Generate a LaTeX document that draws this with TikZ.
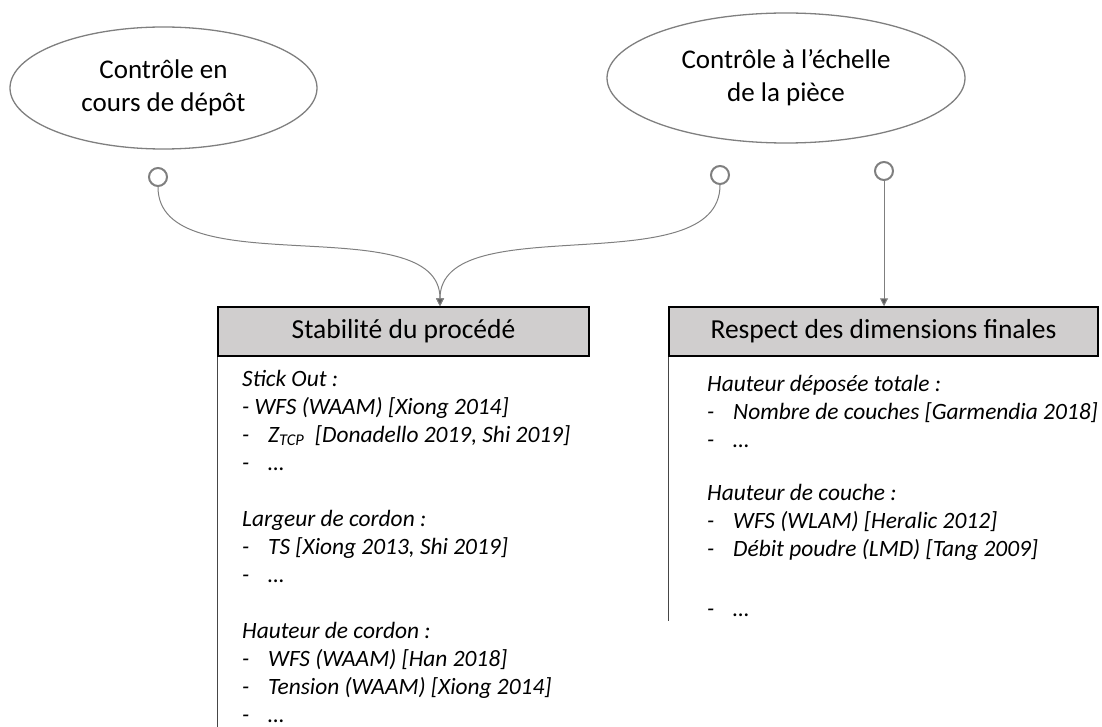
\documentclass[tikz,border=0pt]{standalone}
\definecolor{linegrey}{RGB}{127,127,127}
\definecolor{tipgrey}{RGB}{89,89,89}
\definecolor{headgrey}{RGB}{208,206,206}
\definecolor{rulegrey}{RGB}{70,70,70}
\usepackage{fontspec}
\setmainfont{Carlito}
\usepackage{tikz}
\usetikzlibrary{arrows.meta, positioning, shapes.geometric}
\newcommand{\puce}[1]{\makebox[26pt][l]{-}#1}

\begin{document}
\begin{tikzpicture}[
  x=1pt, y=-1pt,
  goal/.style={ellipse, draw=linegrey, line width=1.3pt, align=center,
               font=\fontsize{27}{33}\selectfont},
  port/.style={circle, draw=linegrey, line width=2pt, minimum size=18pt, inner sep=0pt},
  head/.style={rectangle, draw=black, line width=1.5pt, fill=headgrey,
               minimum height=49pt, font=\fontsize{27.5}{33}\selectfont},
  item/.style={anchor=base west, inner sep=0pt, font=\fontsize{23.4}{28}\selectfont\itshape},
  link/.style={-{Triangle[length=8pt, width=8pt, fill=tipgrey]}, draw=linegrey, line width=1pt}
]
  \useasboundingbox (0,0) rectangle (1102,727);

  % Control levels
  \node[goal, minimum width=307pt, minimum height=122pt] (depot) at (163.5,88) {Contrôle en\\cours de dépôt};
  \node[goal, minimum width=358pt, minimum height=130pt] (piece) at (786,78)  {Contrôle à l’échelle\\de la pièce};

  % Ports
  \node[port] (p1) at (158,177) {};
  \node[port] (p2) at (720,175) {};
  \node[port] (p3) at (884,171) {};

  % Objectives
  \node[head, minimum width=371pt] (stab) at (403.5,331.5) {Stabilité du procédé};
  \node[head, minimum width=429pt] (dims) at (883.5,331.5) {Respect des dimensions finales};
  \coordinate (merge) at ([xshift=36.5pt]stab.north);

  % Side rules
  \draw[rulegrey, line width=1.5pt] (stab.south west) -- ++(0,371);
  \draw[rulegrey, line width=1.5pt] (dims.south west) -- ++(0,264);

  % Links
  \draw[link] (p1.south) .. controls +(0,100) and +(0,-100) .. (merge);
  \draw[link] (p2.south) .. controls +(0,100) and +(0,-100) .. (merge);
  \draw[link] (p3.south) -- (p3.south |- dims.north);

  % Process stability items
  \foreach \y/\txt [count=\i] in {386/{Stick Out :}, 414/{- WFS (WAAM) [Xiong 2014]},
      442/{\puce{Z\textsubscript{TCP}\ \ [Donadello 2019, Shi 2019]}}, 470/{\puce{…}},
      526/{Largeur de cordon :}, 554/{\puce{TS [Xiong 2013, Shi 2019]}}, 582/{\puce{…}},
      638/{Hauteur de cordon :}, 666/{\puce{WFS (WAAM) [Han 2018]}},
      694/{\puce{Tension (WAAM) [Xiong 2014]}}, 722/{\puce{…}}}
    \node[item] (s\i) at (242,\y) {\txt};

  % Final dimension items
  \foreach \y/\txt [count=\i] in {391/{Hauteur déposée totale :},
      419/{\puce{Nombre de couches [Garmendia 2018]}}, 447/{\puce{…}},
      500/{Hauteur de couche :}, 528/{\puce{WFS (WLAM) [Heralic 2012]}},
      556/{\puce{Débit poudre (LMD) [Tang 2009]}}, 616/{\puce{…}}}
    \node[item] (d\i) at (707,\y) {\txt};
\end{tikzpicture}
\end{document}
